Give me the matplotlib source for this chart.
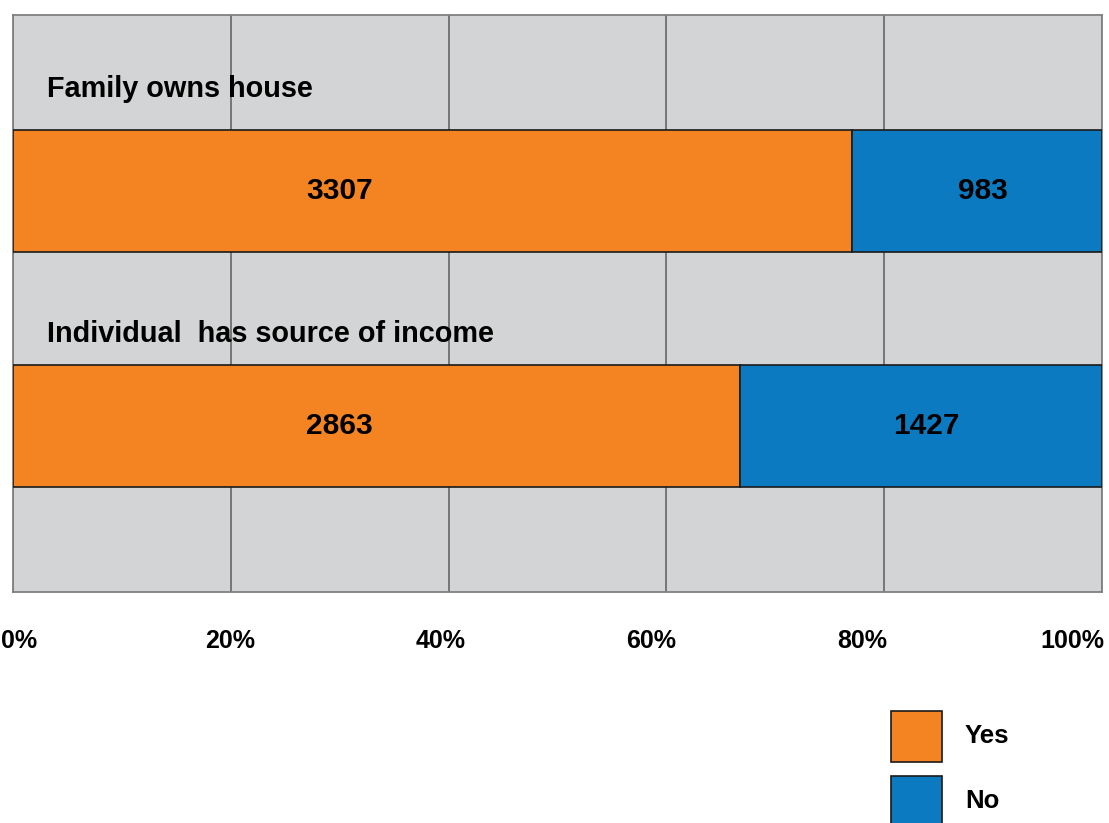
import matplotlib
matplotlib.use("Agg")
import matplotlib.pyplot as plt
from matplotlib.patches import Rectangle
import numpy as np

# ---- data ----
categories = ["Family owns house", "Individual  has source of income"]
yes_counts = [3307, 2863]
no_counts = [983, 1427]
series_names = ["Yes", "No"]
tick_values = [0, 20, 40, 60, 80, 100]
tick_labels = ["0%", "20%", "40%", "60%", "80%", "100%"]

# ---- style ----
ORANGE = "#F48421"
BLUE = "#0C7AC1"
BG = "#D3D4D6"
GRID = "#6F6F6F"
EDGE = "#1a1a1a"
FONT = "Liberation Sans"
plt.rcParams["font.family"] = [FONT, "DejaVu Sans"]
plt.rcParams["font.weight"] = "bold"

W, H = 1109, 823
fig = plt.figure(figsize=(W / 100, H / 100), dpi=100)
ax = fig.add_axes([13 / W, 1 - 592 / H, 1089 / W, 577 / H])
ax.set_facecolor(BG)

yes = np.array(yes_counts, float)
no = np.array(no_counts, float)
tot = yes + no
yes_pct = yes / tot * 100
no_pct = no / tot * 100
ypos = np.arange(len(categories))

bar_h = 0.519
ax.barh(ypos, yes_pct, height=bar_h, color=ORANGE, edgecolor=EDGE, linewidth=1.2, zorder=3)
ax.barh(ypos, no_pct, left=yes_pct, height=bar_h, color=BLUE, edgecolor=EDGE, linewidth=1.2, zorder=3)

ax.set_xlim(0, 100)
ax.set_ylim(1.706, -0.749)
ax.set_xticks(tick_values)
ax.set_xticklabels([])
ax.tick_params(length=0)
ax.set_yticks([])
ax.grid(axis="x", color=GRID, linewidth=1.3, zorder=1)
ax.set_axisbelow(True)
for s in ax.spines.values():
    s.set_color("#808080")
    s.set_linewidth(1.3)

# value labels
for i in range(len(categories)):
    ax.text(30.0, ypos[i], f"{yes_counts[i]}", ha="center", va="center",
            fontsize=21.5, fontweight="bold", color="black", zorder=4)
    ax.text(yes_pct[i] + no_pct[i] / 2 + 0.5, ypos[i], f"{no_counts[i]}", ha="center", va="center",
            fontsize=21.5, fontweight="bold", color="black", zorder=4)

# category labels above bars
label_offsets = [-0.435, -0.392]
for i, c in enumerate(categories):
    ax.text(0.031, ypos[i] + label_offsets[i], c, transform=ax.get_yaxis_transform(),
            ha="left", va="center", fontsize=20.8, fontweight="bold", color="black", zorder=4)

# x tick labels
for k, lab in enumerate(tick_labels):
    xc = (19 + tick_values[k] / 100 * 1053.5) / W
    fig.text(xc, 1 - 641 / H, lab, ha="center", va="center", fontsize=18,
             fontweight="bold", color="black")

# legend (manual, square swatches)
colors = [ORANGE, BLUE]
for k, name in enumerate(series_names):
    top = 711 + k * 65
    fig.add_artist(Rectangle((891 / W, 1 - (top + 51) / H), 51 / W, 51 / H,
                             transform=fig.transFigure, facecolor=colors[k],
                             edgecolor=EDGE, linewidth=1.2))
    fig.text(965 / W, 1 - (top + 25) / H, name, ha="left", va="center",
             fontsize=18.5, fontweight="bold", color="black")

fig.savefig("out.png", dpi=100)
